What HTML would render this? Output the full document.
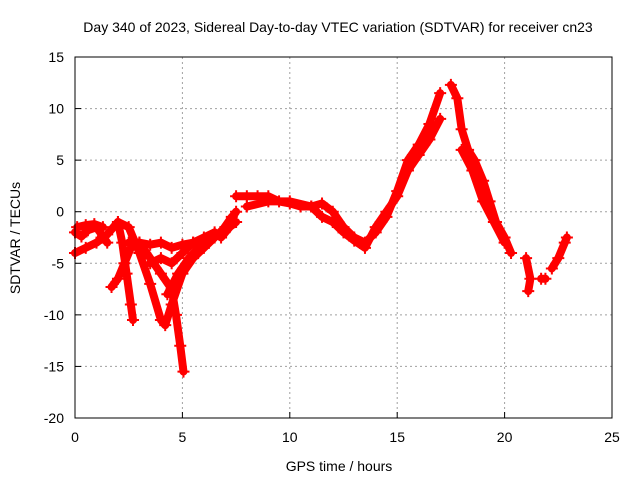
<!DOCTYPE html>
<html><head><meta charset="utf-8"><style>
body{margin:0;background:#fff;}
svg text{font-family:"Liberation Sans",sans-serif;font-size:14px;fill:#000;}
</style></head><body>
<svg id="chart" width="640" height="480" viewBox="0 0 640 480" xmlns="http://www.w3.org/2000/svg">
<rect width="640" height="480" fill="#fff"/>
<text x="338" y="32" text-anchor="middle">Day 340 of 2023, Sidereal Day-to-day VTEC variation (SDTVAR) for receiver cn23</text>
<g id="grid"></g>
<g id="marks"></g>
<rect x="75" y="57" width="537" height="361" fill="none" stroke="#000" stroke-width="1"/>
<g id="ticks"></g>
<text x="339" y="471" text-anchor="middle">GPS time / hours</text>
<text transform="translate(20,238) rotate(-90)" text-anchor="middle">SDTVAR / TECUs</text>
</svg>
<script>
const xTicks=[0,5,10,15,20,25];
const yTicks=[15,10,5,0,-5,-10,-15,-20];
const track1=[[0,-2],[0.3,-2.4],[0.6,-1.8],[1,-1.5],[1.3,-2.4],[1.5,-3]];
const track2=[[0,-4],[0.5,-3.5],[1,-3],[1.5,-2.2],[2,-1]];
const track2b=[[0.1,-1.5],[0.5,-1.3],[0.9,-1.2],[1.3,-1.5]];
const track3=[[1.7,-7.3],[2,-6.5],[2.3,-5],[2.6,-3.5],[3,-3]];
const track4=[[2,-1],[2.2,-3],[2.4,-6],[2.6,-9],[2.7,-10.5]];
const track5=[[2,-1],[2.5,-1.5],[3,-4],[3.5,-7],[4,-10.5],[4.2,-11],[4.5,-9],[5,-6],[5.5,-4.5],[6,-3.5],[6.5,-2.5],[7,-1.5],[7.5,0]];
const track6=[[3,-3],[3.5,-4.5],[4,-6],[4.5,-7.5],[4.7,-10],[4.9,-13],[5.05,-15.5]];
const track7=[[2.5,-3],[3,-3],[3.5,-3.2],[4,-3],[4.5,-3.5],[5,-3.2],[5.5,-3],[6,-3]];
const track8=[[3.5,-5],[4,-4.5],[4.5,-5],[5,-4],[5.5,-3],[6,-2.5],[6.5,-2],[6.8,-2.5],[7.2,-1.5],[7.5,-1]];
const track9=[[4.3,-8],[4.8,-6],[5.3,-4.5],[6,-3],[6.8,-2],[7.3,-0.5]];
const track10=[[7.5,1.5],[8,1.5],[8.5,1.5],[9,1.5],[9.5,1],[10,0.8],[10.5,0.5],[11,0.5],[11.5,0.8],[12,0],[12.5,-1.5],[13,-2.5],[13.5,-3],[14,-2],[14.5,-0.5],[15,2],[15.5,5],[16,6.5],[16.5,8.5],[17,11.5]];
const track11=[[8,0.5],[9,1],[10,1],[11,0.5],[11.5,-0.5],[12,-1],[12.5,-2],[13,-2.8],[13.5,-3.5],[14,-1.5],[14.5,0],[15,1.5],[15.5,4],[16,5.5],[16.5,7],[17,9]];
const track12=[[17.5,12.3],[17.8,11],[18,8],[18.3,6],[18.6,5],[19,3],[19.3,1],[19.6,-1],[20,-2.5],[20.3,-4]];
const track13=[[18,6],[18.5,4],[19,1],[19.5,-1],[20,-3]];
const track14=[[21,-4.5],[21.2,-6.5],[21.1,-7.7]];
const track15=[[21.7,-6.5],[21.9,-6.5]];
const track16=[[22.2,-5.5],[22.5,-4.5],[22.8,-3],[22.9,-2.5]];
const tracks=[track1,track2,track2b,track3,track4,track5,track6,track7,track8,track9,track10,track11,track12,track13,track14,track15,track16];
const NS="http://www.w3.org/2000/svg";
const X=v=>75+v*537/25, Y=v=>57+(15-v)*361/35;
const grid=document.getElementById('grid'),ticks=document.getElementById('ticks'),marks=document.getElementById('marks');
function mk(tag,attrs,parent){const e=document.createElementNS(NS,tag);for(const k in attrs)e.setAttribute(k,attrs[k]);parent.appendChild(e);return e;}
xTicks.forEach(t=>{
 if(t>0&&t<25){const g=mk('line',{x1:X(t),x2:X(t),y1:57,y2:418,stroke:'#a0a0a0','stroke-dasharray':'2,3'},grid);
 
 }
 const l=mk('line',{x1:X(t),x2:X(t),y1:418,y2:412,stroke:'#000'},ticks);
 
 
 const tx=mk('text',{x:X(t),y:442,'text-anchor':'middle'},ticks);tx.textContent=t;
 
 
});
yTicks.forEach(t=>{
 if(t<15&&t>-20){const g=mk('line',{x1:75,x2:612,y1:Y(t),y2:Y(t),stroke:'#a0a0a0','stroke-dasharray':'2,3'},grid);
 
 }
 const l=mk('line',{x1:75,x2:81,y1:Y(t),y2:Y(t),stroke:'#000'},ticks);
 
 
 const tx=mk('text',{x:64,y:Y(t)+5,'text-anchor':'end'},ticks);tx.textContent=t;
 
 
});
tracks.forEach((tr,i)=>{
 const p=mk('polyline',{points:tr.map(d=>X(d[0])+','+Y(d[1])).join(' '),fill:'none',stroke:'#f00','stroke-width':8,'stroke-linejoin':'round','stroke-linecap':'round'},marks);
 
 
 tr.forEach(d=>{
  const m=mk('path',{d:`M${X(d[0])-6},${Y(d[1])}h12M${X(d[0])},${Y(d[1])-6}v12`,stroke:'#f00','stroke-width':2},marks);
  
  
 });
});
</script>
</body></html>
